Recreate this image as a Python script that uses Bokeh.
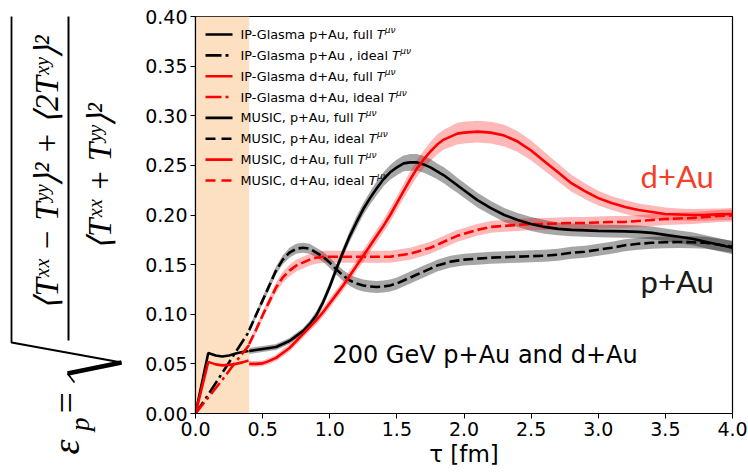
import numpy as np
from bokeh.plotting import figure
from bokeh.layouts import row
from bokeh.models import (Range1d, FixedTicker, NumeralTickFormatter, BoxAnnotation,
                          LinearAxis)
from bokeh.core.properties import value
from bokeh.embed import file_html
from bokeh.resources import INLINE

# ---------------- data ----------------
x_ticks = [0.0, 0.5, 1.0, 1.5, 2.0, 2.5, 3.0, 3.5, 4.0]
y_ticks = [0.00, 0.05, 0.10, 0.15, 0.20, 0.25, 0.30, 0.35, 0.40]
tau_switch = 0.4

glasma_tau_full = [0.0, 0.095, 0.15, 0.2, 0.25, 0.3, 0.35, 0.395]
glasma_pAu_full = [0.0, 0.061, 0.0585, 0.0575, 0.0585, 0.0605, 0.062, 0.063]
glasma_dAu_full = [0.0, 0.052, 0.0495, 0.0485, 0.049, 0.050, 0.0515, 0.0535]

glasma_tau_ideal = [0.0, 0.1, 0.2, 0.3, 0.4]
glasma_pAu_ideal = [0.0, 0.020, 0.041, 0.062, 0.083]
glasma_dAu_ideal = [0.0, 0.017, 0.034, 0.052, 0.069]

tau_music = [0.40, 0.45, 0.50, 0.55, 0.60, 0.65, 0.70, 0.75, 0.80, 0.85, 0.90, 0.95,
             1.00, 1.05, 1.10, 1.15, 1.20, 1.25, 1.30, 1.35, 1.40, 1.45, 1.50, 1.55,
             1.60, 1.65, 1.70, 1.75, 1.80, 1.85, 1.90, 1.95, 2.00,
             2.10, 2.20, 2.30, 2.40, 2.50, 2.60, 2.70, 2.80, 2.90, 3.00,
             3.10, 3.20, 3.30, 3.40, 3.50, 3.60, 3.70, 3.80, 3.90, 4.00]

music_pAu_full = [.063, .064, .065, .066, .067, .070, .073, .078, .083, .090, .099, .112,
                  .128, .146, .163, .179, .193, .206, .217, .227, .236, .243, .248, .252,
                  .253, .253, .251, .248, .244, .240, .235, .230, .225,
                  .215, .207, .200, .195, .191, .188, .186, .185, .1845, .184,
                  .1838, .1835, .183, .182, .180, .178, .176, .173, .170, .167]
music_pAu_ideal = [.084, .099, .114, .129, .144, .155, .162, .166, .167, .166, .162, .158,
                   .152, .145, .139, .134, .131, .129, .128, .1275, .128, .129, .131, .134,
                   .137, .140, .143, .146, .149, .151, .153, .154, .155,
                   .156, .157, .1575, .158, .1585, .159, .160, .162, .163, .165,
                   .167, .1695, .171, .172, .1725, .1728, .1725, .172, .170, .168]
music_dAu_full = [.050, .050, .0505, .053, .056, .061, .066, .073, .080, .087, .094, .102,
                  .111, .120, .129, .139, .149, .159, .169, .179, .189, .200, .212, .224,
                  .236, .247, .256, .264, .271, .276, .279, .282, .283,
                  .284, .283, .280, .274, .265, .254, .243, .232, .224, .217,
                  .212, .208, .205, .203, .201, .2005, .200, .2002, .2006, .201]
music_dAu_ideal = [.070, .084, .099, .113, .127, .137, .144, .149, .152, .155, .157, .158,
                   .158, .158, .158, .158, .158, .158, .158, .158, .158, .158, .159, .160,
                   .161, .163, .165, .167, .170, .173, .176, .179, .181,
                   .185, .188, .189, .190, .191, .191, .1915, .192, .192, .1925,
                   .193, .193, .194, .195, .196, .1965, .197, .198, .199, .1995]

err_pAu_full = [.003, .003, .003, .003, .003, .003, .003, .003, .003, .0035, .004, .004,
                .0045, .005, .005, .0055, .006, .006, .0065, .007, .007, .0075, .008, .008,
                .0085, .0085, .0085, .0085, .008, .008, .008, .0075, .0075,
                .0075, .007, .007, .007, .007, .007, .0065, .0065, .0065, .0065,
                .0065, .0065, .0065, .0065, .0065, .0065, .0065, .0065, .0065, .0065]
err_pAu_ideal = [.003, .003, .0035, .004, .004, .0045, .005, .005, .005, .005, .005, .005,
                 .0055, .0055, .0055, .0055, .006, .006, .006, .006, .006, .006, .006, .006,
                 .006, .006, .006, .006, .006, .006, .006, .006, .006,
                 .006, .006, .006, .006, .006, .006, .006, .006, .006, .006,
                 .006, .006, .006, .006, .006, .006, .006, .006, .006, .006]
err_dAu_full = [.003, .003, .003, .003, .003, .0035, .0035, .004, .004, .004, .0045, .0045,
                .005, .005, .005, .0055, .0055, .006, .006, .0065, .0065, .007, .007, .0075,
                .008, .0085, .009, .0095, .010, .010, .0105, .011, .011,
                .011, .011, .011, .0105, .010, .0095, .009, .0085, .008, .0075,
                .007, .007, .0065, .0065, .0065, .006, .006, .006, .006, .006]
err_dAu_ideal = [.003, .0035, .004, .0045, .005, .0055, .006, .006, .006, .006, .006, .006,
                 .006, .006, .006, .006, .006, .006, .006, .006, .006, .006, .006, .006,
                 .006, .006, .006, .006, .006, .006, .006, .006, .006,
                 .006, .006, .006, .006, .006, .006, .006, .006, .006, .006,
                 .006, .006, .006, .006, .006, .006, .006, .006, .006, .006]

legend_labels = ["IP-Glasma p+Au, full ", "IP-Glasma p+Au , ideal ",
                 "IP-Glasma d+Au, full ", "IP-Glasma d+Au, ideal ",
                 "MUSIC, p+Au, full ", "MUSIC, p+Au, ideal ",
                 "MUSIC, d+Au, full ", "MUSIC, d+Au, ideal "]

# ---------------- styles ----------------
BLACK = "#000000"
RED = "#ff0000"
SOLID_W = 2.6
DASH = "10 4"
DASHDOT = "14 4 3 4"
SANS = "DejaVu Sans"
SERIF = "Liberation Serif"

W_LEFT, W_MAIN, H = 140, 608, 473
B_TOP, B_BOTTOM = 16, 60

# ---------------- main figure ----------------
p = figure(width=W_MAIN, height=H, x_range=Range1d(0, 4), y_range=Range1d(0, 0.4),
           output_backend="svg", toolbar_location=None,
           min_border_left=55, min_border_right=16, min_border_top=B_TOP,
           min_border_bottom=B_BOTTOM)
p.grid.visible = False
p.background_fill_color = "white"
p.border_fill_color = "white"
p.outline_line_color = "black"
p.outline_line_width = 1.2
p.outline_line_alpha = 1.0

p.xaxis.ticker = FixedTicker(ticks=x_ticks)
p.yaxis.ticker = FixedTicker(ticks=y_ticks)
p.xaxis.formatter = NumeralTickFormatter(format="0.0")
p.yaxis.formatter = NumeralTickFormatter(format="0.00")
for ax in (p.xaxis, p.yaxis):
    ax.major_label_text_font = SANS
    ax.major_label_text_font_size = "19px"
    ax.major_label_text_color = "black"
    ax.major_tick_out = 5
    ax.major_tick_in = 0
    ax.major_tick_line_color = "black"
    ax.minor_tick_line_color = None
    ax.axis_line_color = "black"
    ax.axis_line_width = 1.2
    ax.major_label_standoff = 3
p.xaxis.axis_label = "τ [fm]"
p.xaxis.axis_label_text_font = SANS
p.xaxis.axis_label_text_font_size = "23px"
p.xaxis.axis_label_text_font_style = "normal"
p.xaxis.axis_label_text_color = "black"
p.xaxis.axis_label_standoff = 2

# IP-Glasma window
p.add_layout(BoxAnnotation(left=0, right=tau_switch, fill_color="#fde0c2", fill_alpha=1.0,
                           line_color=None, level="underlay"))

tm = np.array(tau_music)
bands = [(music_pAu_full, err_pAu_full, BLACK, 0.35),
         (music_pAu_ideal, err_pAu_ideal, BLACK, 0.35),
         (music_dAu_full, err_dAu_full, RED, 0.28),
         (music_dAu_ideal, err_dAu_ideal, RED, 0.28)]
for yv, ev, col, al in bands:
    yv = np.array(yv); ev = np.array(ev)
    p.varea(x=tm, y1=yv - ev, y2=yv + ev, fill_color=col, fill_alpha=al)

# IP-Glasma curves
p.line(glasma_tau_full, glasma_pAu_full, line_color=BLACK, line_width=SOLID_W)
p.line(glasma_tau_ideal, glasma_pAu_ideal, line_color=BLACK, line_width=SOLID_W, line_dash=DASHDOT)
p.line(glasma_tau_full, glasma_dAu_full, line_color=RED, line_width=SOLID_W)
p.line(glasma_tau_ideal, glasma_dAu_ideal, line_color=RED, line_width=SOLID_W, line_dash=DASHDOT)
# MUSIC curves
p.line(tm, music_pAu_ideal, line_color=BLACK, line_width=SOLID_W, line_dash=DASH)
p.line(tm, music_dAu_ideal, line_color=RED, line_width=SOLID_W, line_dash=DASH)
p.line(tm, music_pAu_full, line_color=BLACK, line_width=SOLID_W)
p.line(tm, music_dAu_full, line_color=RED, line_width=SOLID_W)

# ---------------- manual legend ----------------
PXU = 537 / 4.0      # px per tau unit
PYU = 397 / 0.4      # px per eps unit
leg_styles = [(BLACK, None), (BLACK, "16 4 3 4"), (RED, None), (RED, "16 4 3 4"),
              (BLACK, None), (BLACK, "10 6"), (RED, None), (RED, "10 6")]
char_w = {' ': .318, ',': .318, '-': .361, '+': .838, 'A': .684, 'C': .698, 'G': .775,
          'I': .295, 'M': .863, 'P': .603, 'S': .635, 'U': .732, 'a': .613, 'd': .635,
          'e': .615, 'f': .352, 'i': .278, 'l': .278, 'm': .974, 'p': .635, 's': .521,
          'u': .634}
LEG_FS = 12.8
leg_x0, leg_x1, leg_tx = 10 / PXU, 37 / PXU, 45 / PXU
leg_y0 = 379 / PYU
leg_dy = 20.85 / PYU
for i, (lab, (col, dash)) in enumerate(zip(legend_labels, leg_styles)):
    y = leg_y0 - i * leg_dy
    kw = dict(line_color=col, line_width=SOLID_W)
    if dash:
        kw["line_dash"] = dash
    p.line([leg_x0, leg_x1], [y, y], **kw)
    p.text(x=[leg_tx], y=[y], text=[lab], text_font=value(SANS),
           text_font_size=f"{LEG_FS}px", text_baseline="middle", text_align="left",
           text_color="black")
    wpx = sum(char_w.get(c, 0.6) for c in lab) * LEG_FS
    tx = leg_tx + wpx / PXU
    p.text(x=[tx], y=[y], text=["T"], text_font=value(SANS), text_font_size=f"{LEG_FS}px",
           text_font_style="italic", text_baseline="middle", text_align="left",
           text_color="black")
    p.text(x=[tx + 8.2 / PXU], y=[y + 4.5 / PYU], text=["μν"], text_font=value(SANS),
           text_font_size="9px", text_font_style="italic", text_baseline="middle",
           text_align="left", text_color="black")

# annotations
p.text(x=[1.02], y=[0.0589], text=["200 GeV p+Au and d+Au"], text_font=value(SANS),
       text_font_size="24px", text_baseline="middle", text_align="left", text_color="black")
p.text(x=[3.315], y=[0.2388], text=["d+Au"], text_font=value("Lato"), text_font_size="31px",
       text_baseline="middle", text_align="left", text_color="#f43f2a")
p.text(x=[3.315], y=[0.1339], text=["p+Au"], text_font=value("Lato"), text_font_size="31px",
       text_baseline="middle", text_align="left", text_color="#1a1a1a")

# ---------------- left figure: y-axis formula ----------------
# frame aligned with the main frame (rows align plot frames); ranges chosen so that
# data units equal canvas pixels (y measured upward from the canvas bottom)
lf = figure(width=W_LEFT, height=H, x_range=Range1d(0, W_LEFT),
            y_range=Range1d(B_BOTTOM, H - B_TOP),
            output_backend="svg", toolbar_location=None, x_axis_type=None, y_axis_type=None,
            min_border_left=0, min_border_right=0, min_border_top=B_TOP,
            min_border_bottom=B_BOTTOM)
lf.grid.visible = False
lf.outline_line_color = None
lf.background_fill_color = "white"
lf.border_fill_color = "white"


def Y(sy):
    return H - sy


ROT = np.pi / 2
MATH_FS = "33px"
lf.text(x=[46], y=[Y(172)], text=["⟨Tˣˣ − Tʸʸ⟩² + ⟨2Tˣʸ⟩²"], angle=ROT,
        text_font=value(SERIF), text_font_size=MATH_FS, text_font_style="italic",
        text_align="center", text_baseline="middle", text_color="black")
lf.text(x=[99], y=[Y(176)], text=["⟨Tˣˣ + Tʸʸ⟩²"], angle=ROT,
        text_font=value(SERIF), text_font_size=MATH_FS, text_font_style="italic",
        text_align="center", text_baseline="middle", text_color="black")
# fraction bar
lf.line([68, 68], [Y(10), Y(340)], line_color="black", line_width=2)
# radical sign
lf.line([121, 11, 11], [Y(362), Y(342), Y(8)], line_color="black", line_width=1.8)
lf.line([67, 121], [Y(373), Y(362)], line_color="black", line_width=4.5)
lf.line([74, 67], [Y(382), Y(373)], line_color="black", line_width=1.8)
# "=" inside the frame band
lf.text(x=[65], y=[Y(413)], text=["="], angle=ROT, text_font=value(SERIF),
        text_font_size="38px", text_align="left",
        text_baseline="middle", text_color="black")
# epsilon_p below the frame band: written as rotated labels of invisible bottom axes
for tick, txt, size, standoff in [(79, "p", "27px", 4), (65, "ε", "38px", 5)]:
    ax = LinearAxis(ticker=FixedTicker(ticks=[tick]), major_label_overrides={tick: txt},
                    major_label_orientation=np.pi / 2, major_label_text_font=SERIF,
                    major_label_text_font_style="italic", major_label_text_font_size=size,
                    major_label_text_color="black", major_label_standoff=standoff,
                    axis_line_color=None, major_tick_line_color=None,
                    minor_tick_line_color=None, major_tick_out=0, major_tick_in=0)
    lf.add_layout(ax, "below")

layout = row(lf, p)
open("out.html", "w").write(file_html(layout, INLINE))
